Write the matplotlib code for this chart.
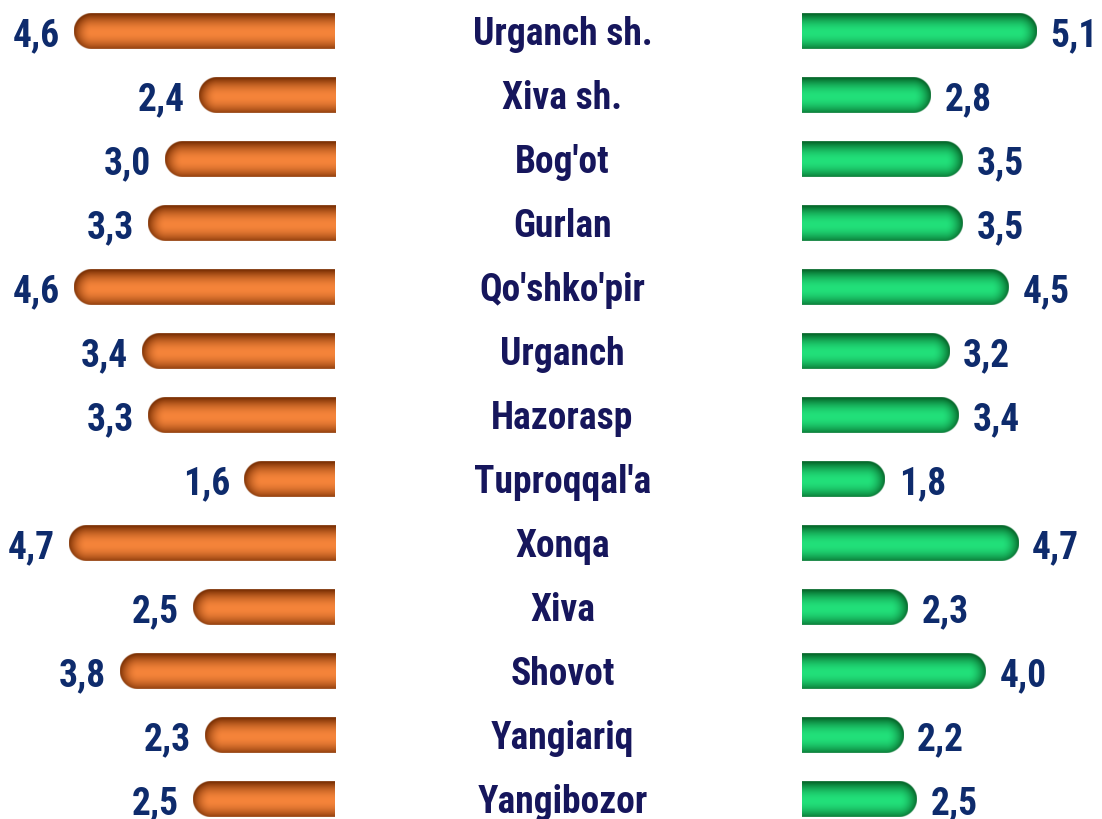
import numpy as np
import matplotlib
matplotlib.use('Agg')
import matplotlib.pyplot as plt
from matplotlib.colors import to_rgb

# Dados
tumanlar = ["Urganch sh.", "Xiva sh.", "Bog'ot", "Gurlan", "Qo'shko'pir", "Urganch",
            "Hazorasp", "Tuproqqal'a", "Xonqa", "Xiva", "Shovot", "Yangiariq", "Yangibozor"]
chap_qiymat = [4.6, 2.4, 3.0, 3.3, 4.6, 3.4, 3.3, 1.6, 4.7, 2.5, 3.8, 2.3, 2.5]
ong_qiymat = [5.1, 2.8, 3.5, 3.5, 4.5, 3.2, 3.4, 1.8, 4.7, 2.3, 4.0, 2.2, 2.5]

W, H, DPI = 1102, 820, 100
FONT = ['Roboto Condensed', 'Liberation Sans Narrow', 'Roboto', 'DejaVu Sans']
COR_VALOR = '#0e2b6c'
COR_NOME = '#16165c'

fig = plt.figure(figsize=(W / DPI, H / DPI), dpi=DPI)
fig.patch.set_facecolor('white')

# eixo y: linhas com passo de 64 px, primeira em 32 px
y_top, y_bot = -0.5, (H - 32) / 64
altura = 36 / 64


def barra_tubo(ax, y, valor, sx, sy, escura, clara):
    """Barra com ponta arredondada e sombreamento tipo tubo."""
    L = valor * sx              # comprimento em px
    hh = altura * sy / 2        # meia altura em px
    r = hh
    ss = 3
    nu, nw = max(int(L * ss), 2), int(2 * hh * ss)
    u = (np.arange(nu) + 0.5) / ss
    w = (np.arange(nw) + 0.5) / ss - hh
    U, Wg = np.meshgrid(u, w)
    dx = np.maximum(U - (L - r), 0)
    dist = np.sqrt(dx ** 2 + Wg ** 2)
    # realce levemente abaixo do centro
    dist_l = np.sqrt(dx ** 2 + (Wg - 0.08 * hh) ** 2)
    t = np.clip(dist_l / r, 0, 1)
    f = np.cos(t * np.pi / 2) ** 0.9
    esc, cla = np.array(to_rgb(escura)), np.array(to_rgb(clara))
    rgb = esc[None, None, :] * (1 - f[..., None]) + cla[None, None, :] * f[..., None]
    alpha = np.clip(r - dist + 0.5, 0, 1)
    img = np.dstack([rgb, alpha])
    ax.imshow(img, extent=(0, valor, y + altura / 2, y - altura / 2),
              origin='upper', aspect='auto', interpolation='antialiased', zorder=2)


def eixo(pos_px, xlim):
    ax = fig.add_axes([pos_px[0] / W, 0, (pos_px[1] - pos_px[0]) / W, 1])
    ax.set_xlim(*xlim)
    ax.set_ylim(y_bot, y_top)
    ax.axis('off')
    return ax


sx_l, sx_r = 56.7, 46.0
sy = 64.0

ax_l = eixo((0, 335), (335 / sx_l, 0))
ax_r = eixo((802, W), (0, (W - 802) / sx_r))
ax_m = eixo((335, 802), (0, 1))

for i, (nome, vl, vr) in enumerate(zip(tumanlar, chap_qiymat, ong_qiymat)):
    barra_tubo(ax_l, i, vl, sx_l, sy, '#7e3205', '#f5843a')
    barra_tubo(ax_r, i, vr, sx_r, sy, '#066a2c', '#22e07a')
    ax_l.annotate(f"{vl:.1f}".replace('.', ','), xy=(vl, i), xytext=(-10, -3),
                  textcoords='offset points', ha='right', va='center',
                  fontsize=27, fontweight='bold', color=COR_VALOR, family=FONT)
    ax_r.annotate(f"{vr:.1f}".replace('.', ','), xy=(vr, i), xytext=(10, -3),
                  textcoords='offset points', ha='left', va='center',
                  fontsize=27, fontweight='bold', color=COR_VALOR, family=FONT)
    ax_m.annotate(nome, xy=(0.487, i), xytext=(0, -1.5), textcoords='offset points',
                  ha='center', va='center', fontsize=27,
                  fontweight='bold', color=COR_NOME, family=FONT)

for ax in (ax_l, ax_r):
    ax.set_xlim(ax.get_xlim())
    ax.set_ylim(y_bot, y_top)

fig.savefig('out.png', dpi=DPI, facecolor='white')
